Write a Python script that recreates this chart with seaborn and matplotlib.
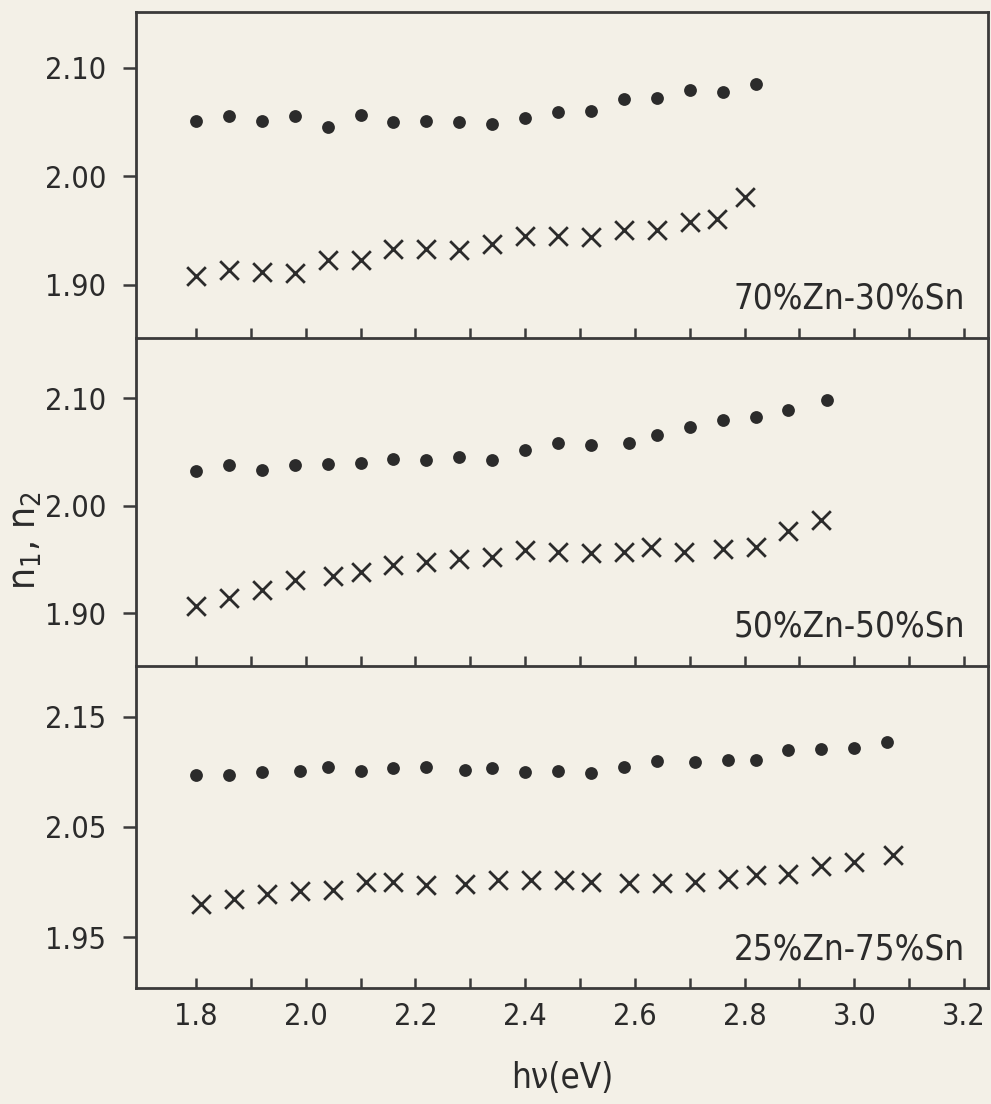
import numpy as np
import pandas as pd
import matplotlib
matplotlib.use("Agg")
import matplotlib.pyplot as plt
import seaborn as sns

# datos (hv en eV, indices n1 = puntos, n2 = cruces)
hv_70_n1 = [1.80, 1.86, 1.92, 1.98, 2.04, 2.10, 2.16, 2.22, 2.28, 2.34, 2.40, 2.46, 2.52, 2.58, 2.64, 2.70, 2.76, 2.82]
n1_70 = [2.051, 2.056, 2.051, 2.056, 2.046, 2.057, 2.050, 2.051, 2.050, 2.048, 2.054, 2.059, 2.060, 2.071, 2.072, 2.080, 2.078, 2.085]
hv_70_n2 = [1.80, 1.86, 1.92, 1.98, 2.04, 2.10, 2.16, 2.22, 2.28, 2.34, 2.40, 2.46, 2.52, 2.58, 2.64, 2.70, 2.75, 2.80]
n2_70 = [1.908, 1.914, 1.912, 1.911, 1.923, 1.923, 1.933, 1.933, 1.932, 1.938, 1.945, 1.945, 1.944, 1.951, 1.951, 1.958, 1.961, 1.981]

hv_50_n1 = [1.80, 1.86, 1.92, 1.98, 2.04, 2.10, 2.16, 2.22, 2.28, 2.34, 2.40, 2.46, 2.52, 2.59, 2.64, 2.70, 2.76, 2.82, 2.88, 2.95]
n1_50 = [2.032, 2.038, 2.033, 2.038, 2.039, 2.040, 2.043, 2.042, 2.045, 2.042, 2.052, 2.058, 2.056, 2.058, 2.066, 2.073, 2.080, 2.082, 2.089, 2.098]
hv_50_n2 = [1.80, 1.86, 1.92, 1.98, 2.05, 2.10, 2.16, 2.22, 2.28, 2.34, 2.40, 2.46, 2.52, 2.58, 2.63, 2.69, 2.76, 2.82, 2.88, 2.94]
n2_50 = [1.907, 1.914, 1.922, 1.931, 1.935, 1.938, 1.945, 1.948, 1.950, 1.952, 1.959, 1.957, 1.956, 1.957, 1.962, 1.957, 1.960, 1.962, 1.976, 1.987]

hv_25_n1 = [1.80, 1.86, 1.92, 1.99, 2.04, 2.10, 2.16, 2.22, 2.29, 2.34, 2.40, 2.46, 2.52, 2.58, 2.64, 2.71, 2.77, 2.82, 2.88, 2.94, 3.00, 3.06]
n1_25 = [2.097, 2.097, 2.100, 2.101, 2.104, 2.101, 2.103, 2.104, 2.102, 2.103, 2.100, 2.101, 2.099, 2.104, 2.110, 2.109, 2.111, 2.111, 2.120, 2.121, 2.122, 2.127]
hv_25_n2 = [1.81, 1.87, 1.93, 1.99, 2.05, 2.11, 2.16, 2.22, 2.29, 2.35, 2.41, 2.47, 2.52, 2.59, 2.65, 2.71, 2.77, 2.82, 2.88, 2.94, 3.00, 3.07]
n2_25 = [1.980, 1.985, 1.989, 1.992, 1.993, 2.000, 2.000, 1.997, 1.998, 2.002, 2.002, 2.002, 2.000, 1.999, 1.999, 2.000, 2.003, 2.006, 2.007, 2.015, 2.018, 2.025]

labels = ['70%Zn-30%Sn', '50%Zn-50%Sn', '25%Zn-75%Sn']
yticks = [[1.90, 2.00, 2.10], [1.90, 2.00, 2.10], [1.95, 2.05, 2.15]]
ytick_labels = [['1.90', '2.00', '2.10'], ['1.90', '2.00', '2.10'], ['1.95', '2.05', '2.15']]
xtick_labels = ['1.8', '2.0', '2.2', '2.4', '2.6', '2.8', '3.0', '3.2']

paneles = [
    (hv_70_n1, n1_70, hv_70_n2, n2_70),
    (hv_50_n1, n1_50, hv_50_n2, n2_50),
    (hv_25_n1, n1_25, hv_25_n2, n2_25),
]

sns.set_style("ticks")
plt.rcParams['font.family'] = ['DejaVu Sans']
plt.rcParams['font.stretch'] = 'condensed'

papel = '#f3f0e7'
tinta = '#2b2b2b'
linea = '#3a3a3a'

fig = plt.figure(figsize=(9.91, 11.04), dpi=100, facecolor=papel)

# posiciones de los tres paneles (fraccion de la figura)
left, width = 0.1372, 0.8598
boxes = [(0.6938, 0.2953), (0.3967, 0.2971), (0.1051, 0.2917)]
ylims = [(1.851, 2.1516), (1.8509, 2.1558), (1.904, 2.196)]

for i, (bottom, height) in enumerate(boxes):
    ax = fig.add_axes([left, bottom, width, height])
    ax.patch.set_alpha(0)
    x1, y1, x2, y2 = paneles[i]
    sns.scatterplot(x=x1, y=y1, ax=ax, marker='o', s=85, color=tinta, edgecolor=tinta, linewidth=0)
    sns.scatterplot(x=x2, y=y2, ax=ax, marker='x', s=180, color=tinta, linewidth=2.0)

    ax.set_xlim(1.6906, 3.2437)
    ax.set_ylim(*ylims[i])
    for sp in ax.spines.values():
        sp.set_linewidth(2.0)
        sp.set_color(linea)
    if i > 0:
        ax.spines['top'].set_visible(False)

    ax.set_xticks(np.arange(1.8, 3.25, 0.1))
    ax.tick_params(axis='x', direction='in', length=7.5, width=1.8, color=linea, labelbottom=False)
    ax.set_yticks(yticks[i])
    ax.set_yticklabels(ytick_labels[i])
    ax.tick_params(axis='y', direction='out', length=9.5, width=1.8, color=linea,
                   labelsize=22, pad=12, labelcolor=tinta)
    ax.set_xlabel('')
    ax.set_ylabel('')
    ax.text(0.973, 0.12, labels[i], transform=ax.transAxes, ha='right', va='center',
            fontsize=25, color=tinta)

    if i == 2:
        ax.set_xticklabels([xtick_labels[k // 2] if k % 2 == 0 else '' for k in range(15)])
        ax.tick_params(axis='x', labelbottom=True, labelsize=22, pad=10, labelcolor=tinta)
        ax.set_xlabel('hν(eV)', fontsize=25, color=tinta, labelpad=22)

fig.text(0.025, 0.51, r'n$_1$, n$_2$', rotation=90, ha='center', va='center', fontsize=28, color=tinta)

fig.savefig('out.png', dpi=100, facecolor=papel)
